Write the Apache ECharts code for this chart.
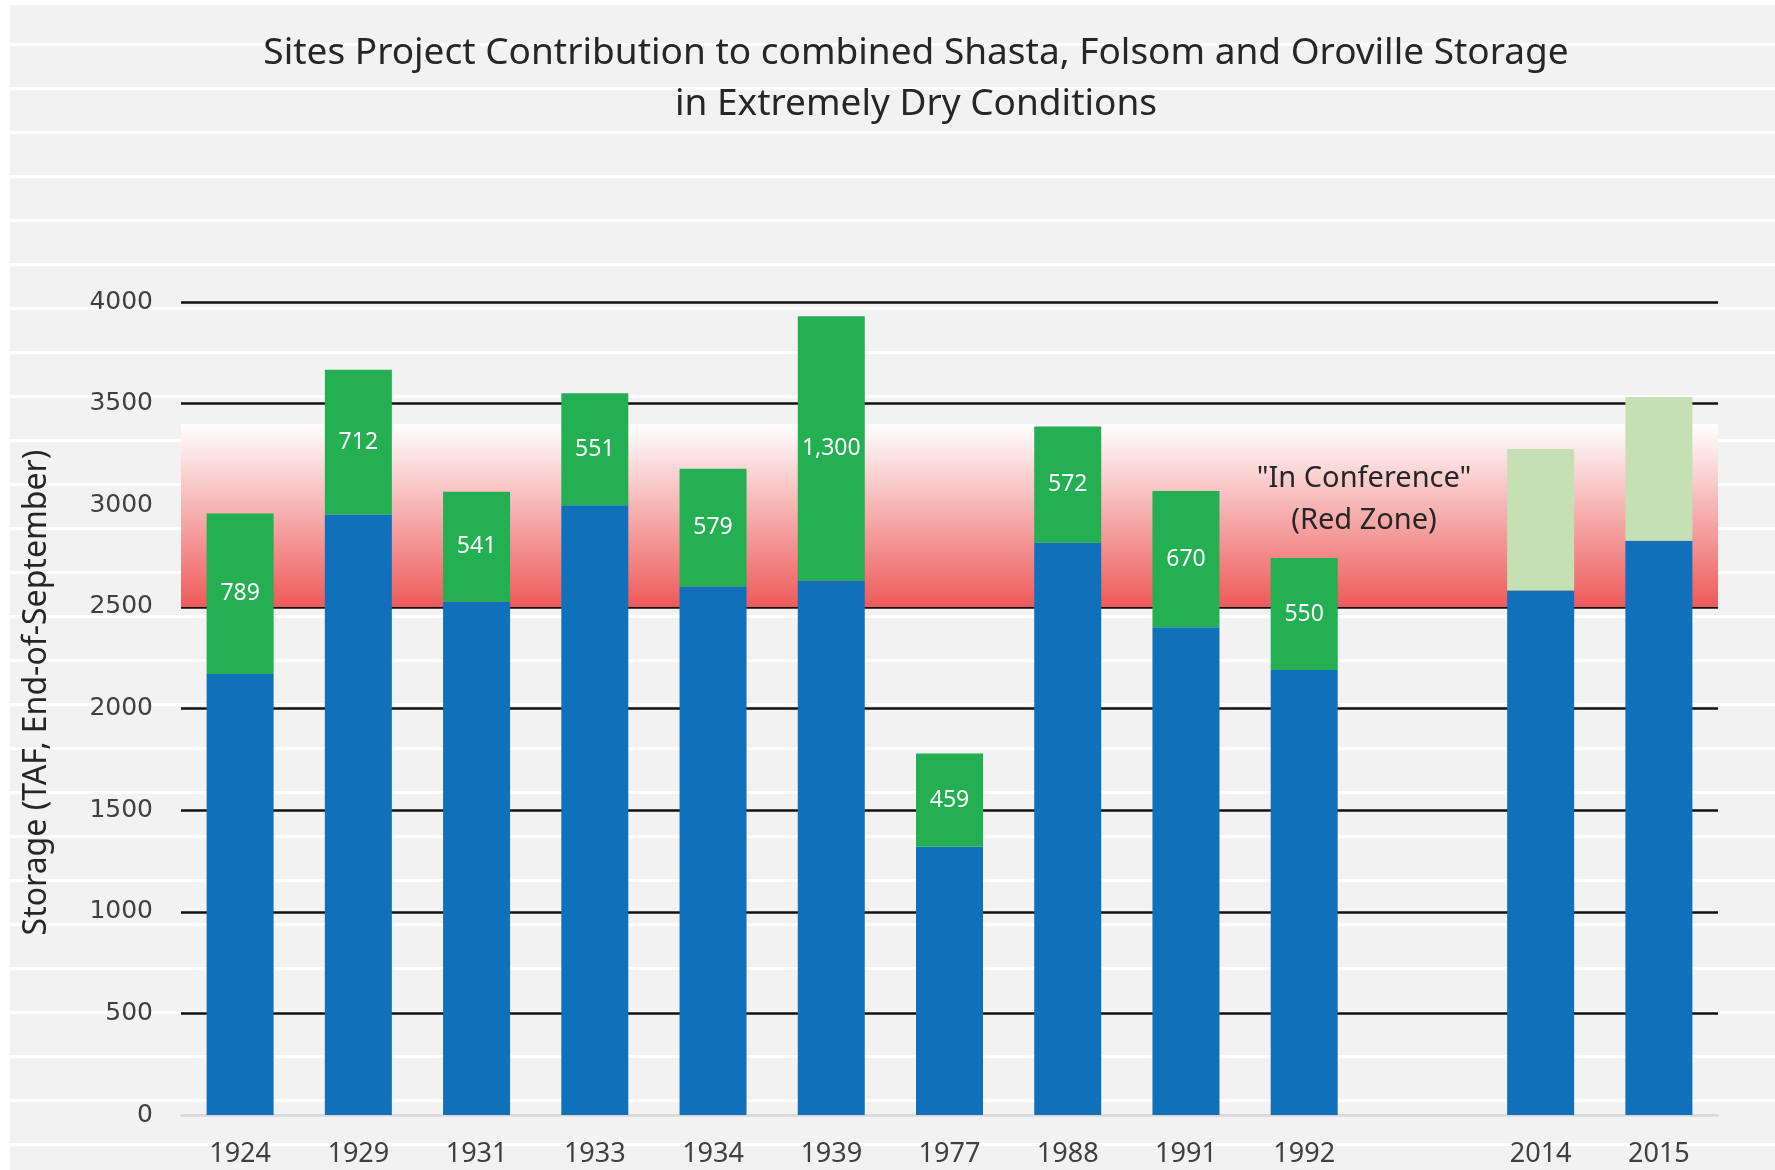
<!DOCTYPE html>
<html>
<head>
<meta charset="utf-8">
<title>Sites Project Contribution</title>
<script src="https://cdn.jsdelivr.net/npm/echarts@6/dist/echarts.min.js"></script>
<style>
  html, body { margin: 0; padding: 0; background: #ffffff; }
  #bg {
    position: absolute; left: 10px; top: 5px; right: 0; bottom: 0;
    background: repeating-linear-gradient(to bottom, #f2f2f2 0px, #f2f2f2 38px, #ffffff 38px, #ffffff 41px, #f2f2f2 41px, #f2f2f2 44px);
  }
  #chart { position: absolute; left: 0; top: 0; width: 1775px; height: 1170px; }
</style>
</head>
<body>
<div id="bg"></div>
<div id="chart"></div>
<script>
// years (blank slot between 1992 and 2014 as in the original)
const years = ['1924', '1929', '1931', '1933', '1934', '1939', '1977', '1988', '1991', '1992', '', '2014', '2015'];
// combined Shasta/Folsom/Oroville storage without Sites (TAF)
const baseStorage = [2170, 2955, 2525, 3000, 2600, 2630, 1320, 2815, 2400, 2190, '-', 2580, 2825];
// Sites contribution, labelled
const sitesAdd = [789, 712, 541, 551, 579, 1300, 459, 572, 670, 550, '-', '-', '-'];
// Sites contribution for recent years (no labels)
const sitesAddRecent = ['-', '-', '-', '-', '-', '-', '-', '-', '-', '-', '-', 697, 707];
// "In Conference" red zone range
const redZone = [2500, 3400];

const chart = echarts.init(document.getElementById('chart'));

const option = {
  animation: false,
  backgroundColor: 'transparent',
  grid: {
    left: 181,
    right: 57,
    top: 302,
    bottom: 55
  },
  graphic: [
    {
      type: 'text',
      x: 916,
      y: 79,
      style: {
        text: 'Sites Project Contribution to combined Shasta, Folsom and Oroville Storage\nin Extremely Dry Conditions',
        textAlign: 'center',
        textVerticalAlign: 'middle',
        fontFamily: 'Noto Sans',
        fontSize: 37,
        lineHeight: 51,
        fill: '#262626'
      }
    },
    {
      type: 'text',
      x: 1364,
      y: 500,
      z: 10,
      style: {
        text: '"In Conference"\n(Red Zone)',
        textAlign: 'center',
        textVerticalAlign: 'middle',
        fontFamily: 'Noto Sans',
        fontSize: 29,
        lineHeight: 42,
        fill: '#262626'
      }
    }
  ],
  xAxis: {
    type: 'category',
    data: years,
    axisTick: { show: false },
    axisLine: { lineStyle: { color: '#d9d9d9', width: 2 } },
    axisLabel: {
      fontFamily: 'Noto Sans',
      fontSize: 27,
      color: '#404040',
      margin: 26
    }
  },
  yAxis: {
    type: 'value',
    min: 0,
    max: 4000,
    interval: 500,
    z: 1,
    name: 'Storage (TAF, End-of-September)',
    nameLocation: 'middle',
    nameGap: 128,
    nameTextStyle: {
      fontFamily: 'Noto Sans',
      fontSize: 32,
      color: '#262626',
      padding: [0, 0, 0, 32]
    },
    axisLine: { show: false },
    axisTick: { show: false },
    axisLabel: {
      fontFamily: 'DejaVu Sans',
      fontSize: 25,
      color: '#404040',
      margin: 28,
      formatter: v => String(v)
    },
    splitLine: {
      lineStyle: {
        color: ['#d9d9d9', '#111', '#111', '#111', '#111', '#111', '#111', '#111', '#111'],
        width: 2.5
      }
    }
  },
  series: [
    {
      name: 'Red Zone',
      type: 'line',
      data: [],
      z: 0,
      silent: true,
      markArea: {
        silent: true,
        itemStyle: {
          color: new echarts.graphic.LinearGradient(0, 0, 0, 1, [
            { offset: 0, color: '#ffffff' },
            { offset: 1, color: '#ee5a5a' }
          ])
        },
        data: [[{ yAxis: redZone[0] }, { yAxis: redZone[1] }]]
      }
    },
    {
      name: 'Storage',
      type: 'bar',
      stack: 'total',
      barWidth: 67,
      z: 2,
      itemStyle: { color: '#1071ba' },
      data: baseStorage
    },
    {
      name: 'Sites',
      type: 'bar',
      stack: 'total',
      barWidth: 67,
      z: 2,
      itemStyle: { color: '#23af52' },
      label: {
        show: true,
        position: 'inside',
        color: '#ffffff',
        fontFamily: 'Noto Sans',
        fontSize: 23,
        formatter: p => p.value.toLocaleString('en-US')
      },
      data: sitesAdd
    },
    {
      name: 'Sites (recent)',
      type: 'bar',
      stack: 'total',
      barWidth: 67,
      z: 2,
      itemStyle: { color: '#c5e0b3' },
      data: sitesAddRecent
    }
  ]
};

chart.setOption(option);
</script>
</body>
</html>
